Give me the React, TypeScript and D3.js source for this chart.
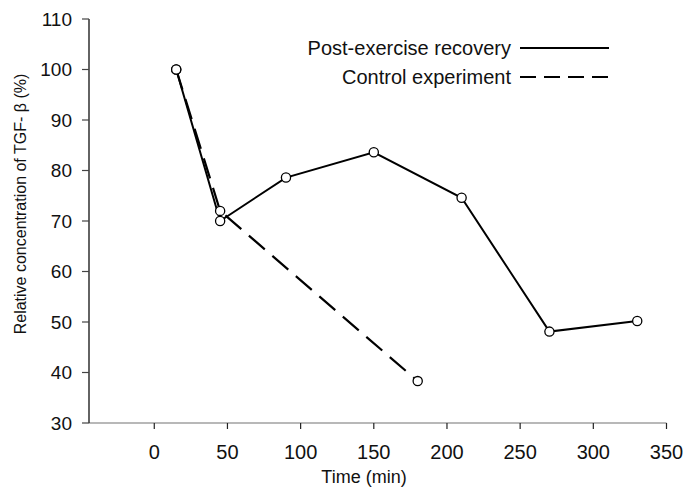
import React from "react";
import * as d3 from "d3";

// Time points (min) and relative TGF-β concentration (%)
const recoveryTime = [15, 45, 90, 150, 210, 270, 330];
const recoveryValue = [100, 70, 78.6, 83.6, 74.6, 48.1, 50.2];

const controlTime = [15, 45, 180];
const controlValue = [100, 72, 38.3];

const xTicks = [0, 50, 100, 150, 200, 250, 300, 350];
const yTicks = [30, 40, 50, 60, 70, 80, 90, 100, 110];

const seriesLabels = ["Post-exercise recovery", "Control experiment"];

const W = 699;
const H = 487;
const FONT = "Liberation Sans, Arial, sans-serif";

export default function App() {
  const x = d3.scaleLinear().domain([-44.6, 350]).range([89, 666.5]);
  const y = d3.scaleLinear().domain([30, 110]).range([423, 19]);

  const line = d3
    .line<[number, number]>()
    .x((d) => x(d[0]))
    .y((d) => y(d[1]));

  const recovery: [number, number][] = recoveryTime.map((t, i) => [t, recoveryValue[i]]);
  const control: [number, number][] = controlTime.map((t, i) => [t, controlValue[i]]);

  const x0 = x.range()[0];
  const x1 = x.range()[1];
  const yBase = y(30);

  return (
    <svg
      width={W}
      height={H}
      style={{ position: "absolute", left: 0, top: 0, background: "#fff" }}
      fontFamily={FONT}
    >
      {/* x axis */}
      <line x1={x0} x2={x1} y1={yBase} y2={yBase} stroke="#a0a0a0" strokeWidth={1.6} />
      {xTicks.map((t) => (
        <g key={"xt" + t}>
          <line x1={x(t)} x2={x(t)} y1={yBase} y2={yBase + 6} stroke="#222" strokeWidth={1.2} />
          <text x={x(t)} y={459} textAnchor="middle" fontSize={20} fill="#111">
            {t}
          </text>
        </g>
      ))}
      <text x={364} y={483} textAnchor="middle" fontSize={18} fill="#111">
        Time (min)
      </text>

      {/* y axis */}
      <line x1={x0} x2={x0} y1={y(110)} y2={yBase} stroke="#222" strokeWidth={1.4} />
      {yTicks.map((t) => (
        <g key={"yt" + t}>
          <line x1={x0 - 7} x2={x0} y1={y(t)} y2={y(t)} stroke="#444" strokeWidth={1.2} />
          <text x={72} y={y(t) + 6.5} textAnchor="end" fontSize={19} fill="#111">
            {t}
          </text>
        </g>
      ))}
      <text
        transform={`translate(26,${204}) rotate(-90)`}
        textAnchor="middle"
        fontSize={16}
        fill="#111"
      >
        Relative concentration of TGF- β (%)
      </text>

      {/* series lines */}
      <path d={line(recovery) ?? ""} fill="none" stroke="#000" strokeWidth={2} />
      <path
        d={line(control) ?? ""}
        fill="none"
        stroke="#000"
        strokeWidth={2.2}
        strokeDasharray="21,10"
      />

      {/* markers */}
      {recovery.map((d, i) => (
        <circle key={"r" + i} cx={x(d[0])} cy={y(d[1])} r={4.6} fill="#fff" stroke="#000" strokeWidth={1.3} />
      ))}
      {control.map((d, i) => (
        <circle key={"c" + i} cx={x(d[0])} cy={y(d[1])} r={4.6} fill="#fff" stroke="#000" strokeWidth={1.3} />
      ))}

      {/* legend */}
      <text x={511} y={55} textAnchor="end" fontSize={20} fill="#111">
        {seriesLabels[0]}
      </text>
      <line x1={520} x2={609} y1={48} y2={48} stroke="#000" strokeWidth={2} />
      <text x={511} y={84} textAnchor="end" fontSize={20} fill="#111">
        {seriesLabels[1]}
      </text>
      <line x1={520} x2={609} y1={77} y2={77} stroke="#000" strokeWidth={2} strokeDasharray="16,8" />
    </svg>
  );
}
